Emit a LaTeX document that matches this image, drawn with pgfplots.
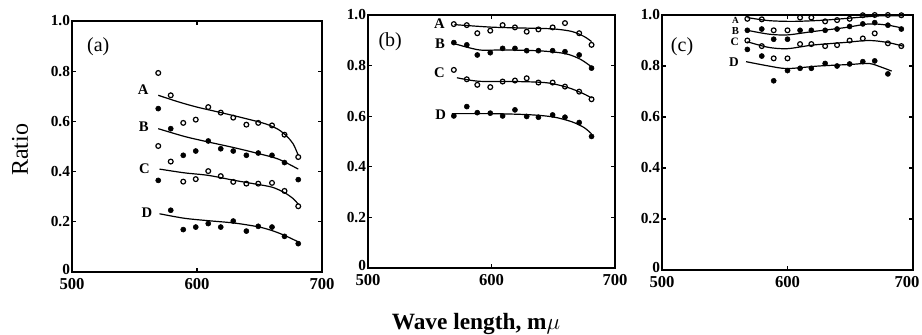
\documentclass[border=0pt]{standalone}
\usepackage{pgfplots}
\pgfplotsset{compat=1.18}
\usepackage{fontspec}
\setmainfont{Liberation Serif}
\pgfplotsset{
  panel/.style={
    scale only axis, anchor=north west, clip=false,
    xmin=500, xmax=700, ymin=0, ymax=1,
    xtick={500,600,700}, xticklabels={500,600,700},
    ytick={0,0.2,0.4,0.6,0.8,1.0}, yticklabels={\raisebox{4pt}{0},0.2,0.4,0.6,0.8,1.0},
    tick align=inside, major tick length=3pt,
    tick style={black, line width=0.9pt},
    axis line style={line width=1.8pt},
    xticklabel style={font=\bfseries\fontsize{12.5}{12.5}\selectfont, yshift=-1.5pt},
    yticklabel style={font=\bfseries\fontsize{11.5}{11.5}\selectfont, xshift=2pt},
    /pgf/number format/assume math mode=true,
  },
  op/.style={only marks, mark=o, mark size=1.8pt, mark options={line width=0.9pt, fill=white}, black},
  fi/.style={only marks, mark=*, mark size=1.9pt, black},
  cv/.style={smooth, no marks, black, line width=0.9pt},
}
\tikzset{lab/.style={font=\bfseries\fontsize{11}{11}\selectfont, anchor=east},
         plab/.style={font=\fontsize{15}{15}\selectfont}}
\begin{document}
\begin{tikzpicture}
\useasboundingbox (0,0) rectangle (691.5pt,-251.25pt);
% ---------------- (a)
\begin{axis}[panel, at={(54pt,-15.75pt)}, width=187.5pt, height=188.25pt]
\addplot[op] coordinates {(569,0.793)(579,0.704)(589,0.594)(599,0.607)(609,0.657)(619,0.635)(629,0.615)(639.5,0.587)(649,0.594)(660,0.584)(670,0.547)(681,0.458)};
\addplot[fi] coordinates {(569,0.651)(579,0.571)(589,0.465)(599,0.482)(609,0.522)(619,0.491)(629,0.482)(639.5,0.465)(649,0.474)(660,0.465)(670,0.436)(681,0.368)};
\addplot[op] coordinates {(569,0.502)(579,0.44)(589,0.36)(599,0.37)(609,0.402)(619,0.382)(629,0.359)(639.5,0.352)(649,0.352)(660,0.355)(670,0.323)(681,0.262)};
\addplot[fi] coordinates {(569,0.365)(579,0.246)(589,0.169)(599,0.179)(609,0.193)(619,0.179)(629,0.203)(639.5,0.163)(649,0.182)(660,0.179)(670,0.142)(681,0.113)};
\addplot[cv] coordinates {(569,0.704)(585,0.678)(600,0.657)(620,0.634)(640,0.61)(655,0.59)(665,0.568)(672,0.54)(677,0.51)(681,0.465)};
\addplot[cv] coordinates {(569,0.571)(590,0.54)(609,0.518)(630,0.495)(649,0.472)(665,0.45)(681,0.41)};
\addplot[cv] coordinates {(570,0.41)(590,0.395)(609,0.385)(630,0.365)(645,0.352)(660,0.338)(670,0.316)(677,0.292)(681,0.27)};
\addplot[cv] coordinates {(570,0.232)(590,0.214)(610,0.204)(630,0.195)(649,0.18)(660,0.165)(670,0.146)(681,0.12)};
\node[lab] at (axis cs:565,0.725) {A};
\node[lab] at (axis cs:565,0.578) {B};
\node[lab] at (axis cs:566,0.41) {C};
\node[lab] at (axis cs:568,0.235) {D};
\node[plab] at (axis cs:521,0.896) {(a)};
\end{axis}
% ---------------- (b)
\begin{axis}[panel, at={(276pt,-11.25pt)}, width=185.25pt, height=189.75pt]
\addplot[op] coordinates {(569.5,0.964)(580,0.96)(588.5,0.928)(599,0.938)(609,0.96)(619,0.951)(628.5,0.934)(638,0.943)(649.5,0.951)(659.5,0.968)(671,0.928)(681,0.882)};
\addplot[fi] coordinates {(569.5,0.891)(580,0.882)(588.5,0.842)(599,0.851)(609,0.868)(619,0.868)(628.5,0.859)(638,0.859)(649.5,0.859)(659.5,0.855)(671,0.842)(681,0.79)};
\addplot[op] coordinates {(569.5,0.783)(580,0.746)(588.5,0.724)(599,0.715)(609,0.737)(619,0.741)(628.5,0.75)(638,0.733)(649.5,0.733)(659.5,0.717)(671,0.697)(681,0.667)};
\addplot[fi] coordinates {(569.5,0.601)(580,0.638)(588.5,0.614)(599,0.612)(609,0.601)(619,0.625)(628.5,0.599)(638,0.596)(649.5,0.605)(659.5,0.596)(671,0.575)(681,0.52)};
\addplot[cv] coordinates {(570,0.962)(600,0.952)(630,0.948)(650,0.945)(665,0.935)(675,0.915)(681,0.895)};
\addplot[cv] coordinates {(569,0.888)(590,0.862)(610,0.862)(640,0.858)(660,0.847)(672,0.825)(681,0.795)};
\addplot[cv] coordinates {(572,0.752)(590,0.738)(620,0.737)(645,0.732)(662,0.713)(674,0.69)(681,0.672)};
\addplot[cv] coordinates {(568,0.61)(600,0.61)(630,0.606)(650,0.597)(665,0.578)(675,0.555)(681,0.53)};
\node[lab] at (axis cs:566,0.967) {A};
\node[lab] at (axis cs:566,0.888) {B};
\node[lab] at (axis cs:566,0.772) {C};
\node[lab] at (axis cs:567,0.605) {D};
\node[plab] at (axis cs:518,0.895) {(b)};
\end{axis}
% ---------------- (c)
\begin{axis}[panel, at={(496.5pt,-11.25pt)}, width=188.25pt, height=191.25pt,
  xticklabels={500,600,{\hspace*{-9pt}700}}]
\addplot[op] coordinates {(568,0.985)(579.5,0.983)(589,0.94)(600,0.94)(610,0.99)(619,0.99)(630,0.975)(639.5,0.98)(649.5,0.985)(660,0.999)(669.5,1.0)(680,1.0)(690.7,0.999)};
\addplot[fi] coordinates {(568,0.94)(579.5,0.945)(589,0.905)(600,0.905)(610,0.94)(619,0.94)(630,0.94)(639.5,0.945)(649.5,0.955)(660,0.965)(669.5,0.97)(680,0.96)(690.7,0.945)};
\addplot[op] coordinates {(568,0.9)(579.5,0.878)(589,0.83)(600,0.83)(610,0.886)(619,0.886)(630,0.878)(639.5,0.882)(649.5,0.9)(660,0.908)(669.5,0.928)(680,0.889)(690.7,0.878)};
\addplot[fi] coordinates {(568,0.865)(579.5,0.839)(589,0.742)(600,0.782)(610,0.791)(619,0.791)(630,0.81)(639.5,0.8)(649.5,0.808)(660,0.817)(669.5,0.82)(680,0.769)};
\addplot[cv] coordinates {(568,0.99)(585,0.978)(605,0.975)(630,0.98)(655,0.99)(675,0.997)(692,0.997)};
\addplot[cv] coordinates {(568,0.94)(585,0.925)(600,0.922)(620,0.935)(645,0.95)(665,0.965)(680,0.96)(692,0.948)};
\addplot[cv] coordinates {(568,0.895)(585,0.873)(600,0.868)(620,0.882)(645,0.892)(665,0.9)(680,0.892)(692,0.878)};
\addplot[cv] coordinates {(567,0.817)(585,0.8)(600,0.79)(625,0.8)(650,0.806)(665,0.81)(675,0.795)(683,0.78)};
\node[lab, font=\bfseries\fontsize{7}{7}\selectfont] at (axis cs:565,0.978) {A};
\node[lab, font=\bfseries\fontsize{8}{8}\selectfont] at (axis cs:565,0.939) {B};
\node[lab, font=\bfseries\fontsize{8.5}{8.5}\selectfont] at (axis cs:565,0.895) {C};
\node[lab, font=\bfseries\fontsize{10}{10}\selectfont] at (axis cs:565,0.817) {D};
\node[plab] at (axis cs:516,0.876) {(c)};
\end{axis}
\node[rotate=90, font=\fontsize{18}{18}\selectfont] at (15pt,-112.5pt) {Ratio};
\node[font=\bfseries\fontsize{17.5}{17.5}\selectfont] at (357pt,-243pt) {Wave length, m$\mu$};
\end{tikzpicture}
\end{document}
